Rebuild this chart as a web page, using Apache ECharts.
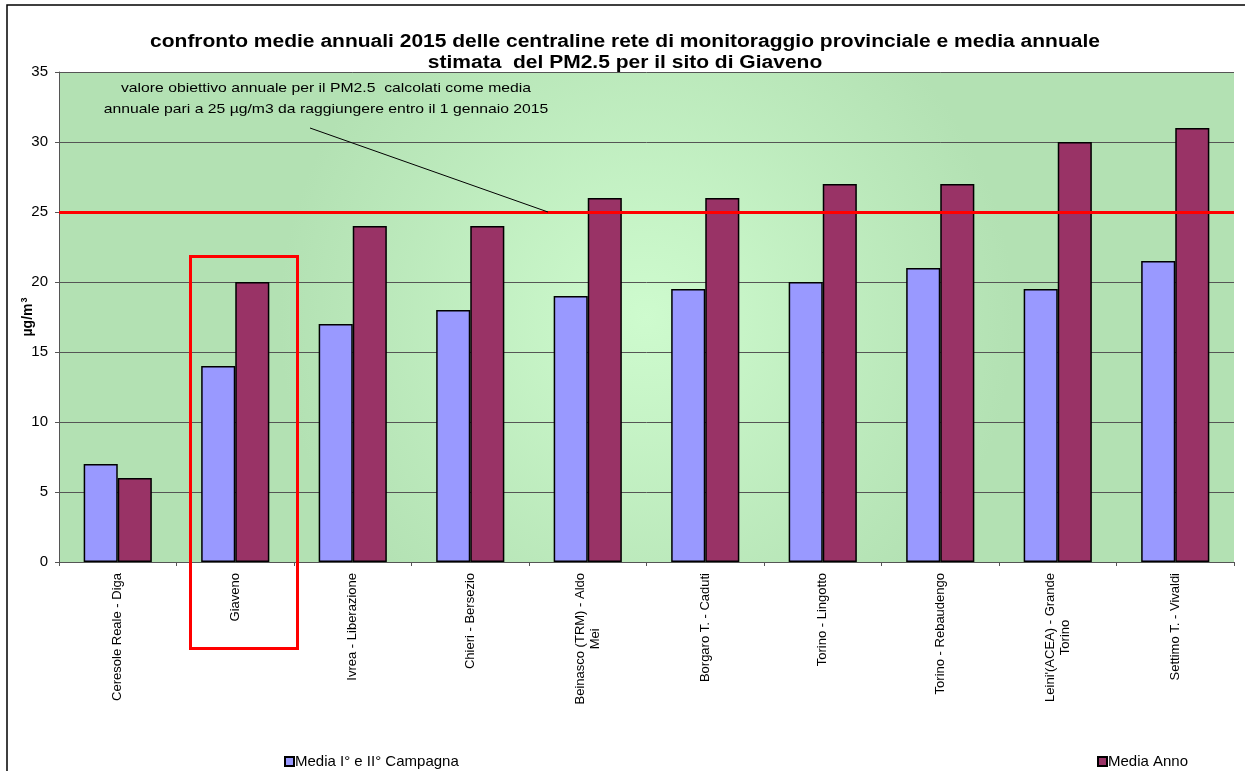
<!DOCTYPE html>
<html>
<head>
<meta charset="utf-8">
<script src="https://cdn.jsdelivr.net/npm/echarts@6/dist/echarts.min.js"></script>
<style>
html,body{margin:0;padding:0;background:#fff;}
#chart{width:1245px;height:771px;}
</style>
</head>
<body>
<div id="chart"></div>
<script>
const categories = [
  'Ceresole Reale - Diga',
  'Giaveno',
  'Ivrea - Liberazione',
  'Chieri - Bersezio',
  'Beinasco (TRM) - Aldo\nMei',
  'Borgaro T. - Caduti',
  'Torino - Lingotto',
  'Torino - Rebaudengo',
  "Leini'(ACEA) - Grande\nTorino",
  'Settimo T. - Vivaldi'
];
const mediaCampagna = [7, 14, 17, 18, 19, 19.5, 20, 21, 19.5, 21.5];
const mediaAnno = [6, 20, 24, 24, 26, 26, 27, 27, 30, 31];
const targetValue = 25;
const yTicks = { min: 0, max: 35, interval: 5 };
const seriesNames = ['Media I° e II° Campagna', 'Media Anno'];
const titleText = 'confronto medie annuali 2015 delle centraline rete di monitoraggio provinciale e media annuale\nstimata  del PM2.5 per il sito di Giaveno';
const noteText = 'valore obiettivo annuale per il PM2.5  calcolati come media\nannuale pari a 25 µg/m3 da raggiungere entro il 1 gennaio 2015';

const FONT = 'Arial, "Liberation Sans", sans-serif';
const chart = echarts.init(document.getElementById('chart'), null, {renderer: 'canvas'});

const option = {
  backgroundColor: '#ffffff',
  animation: false,
  legend: [
    {data: [seriesNames[0]], left: 279, top: 749, itemWidth: 9, itemHeight: 9, icon: 'rect',
     textStyle: {fontFamily: FONT, fontSize: 15, color: '#000', padding: [0,0,0,-4]}},
    {data: [seriesNames[1]], left: 1092, top: 749, itemWidth: 9, itemHeight: 9, icon: 'rect',
     textStyle: {fontFamily: FONT, fontSize: 15, color: '#000', padding: [0,0,0,-4]}}
  ],
  grid: {
    left: 59, right: 11, top: 72, bottom: 209, show: true, borderWidth: 0,
    backgroundColor: new echarts.graphic.RadialGradient(0.5, 0.5, 0.75, [
      {offset: 0, color: '#cefbce'},
      {offset: 1, color: '#b3e1b3'}
    ])
  },
  xAxis: {
    type: 'category', data: categories, boundaryGap: true,
    axisLine: {show: true, lineStyle: {color: '#555', width: 1}},
    axisTick: {show: true, length: 4, lineStyle: {color: '#555'}},
    axisLabel: {
      rotate: 90, interval: 0, margin: 11, color: '#000', fontFamily: FONT, fontSize: 13,
      formatter: function (v) {
        return v.split('\n').map(s => '{m|' + s + '}').join('\n');
      },
      rich: {m: {align: 'center', fontFamily: FONT, fontSize: 13, color: '#000', lineHeight: 15}}
    }
  },
  yAxis: {
    type: 'value', min: yTicks.min, max: yTicks.max, interval: yTicks.interval,
    name: 'µg/m{s|3}', nameLocation: 'middle', nameGap: 23, nameRotate: 90, nameMoveOverlap: false,
    nameTextStyle: {fontFamily: FONT, fontSize: 14, fontWeight: 'bold', color: '#000',
      rich: {s: {fontFamily: FONT, fontSize: 9, fontWeight: 'bold', color: '#000', padding: [0,0,7,1]}}},
    axisLine: {show: true, lineStyle: {color: '#555', width: 1}},
    axisTick: {show: true, length: 4, lineStyle: {color: '#555'}},
    axisLabel: {color: '#000', fontFamily: FONT, fontSize: 15, margin: 11},
    splitLine: {show: true, lineStyle: {color: '#555', width: 1}}
  },
  series: [
    {
      name: seriesNames[0], type: 'bar', data: mediaCampagna,
      barGap: '0%', barCategoryGap: '42%',
      itemStyle: {color: '#9999ff', borderColor: '#000', borderWidth: 1.5},
      markLine: {
        silent: true, symbol: 'none', label: {show: false},
        lineStyle: {color: '#ff0000', width: 3, type: 'solid'},
        data: [{yAxis: targetValue}]
      },
      z: 2
    },
    {
      name: seriesNames[1], type: 'bar', data: mediaAnno,
      itemStyle: {color: '#993366', borderColor: '#000', borderWidth: 1.5},
      z: 2
    }
  ],
  graphic: [
    {type: 'rect', shape: {x: 7, y: 5, width: 1260, height: 800}, z: -1,
     style: {fill: 'none', stroke: '#000', lineWidth: 1.5}},
    {type: 'text', x: 625, y: 32, scaleX: 1.2, z: 10,
     style: {text: titleText, fontFamily: FONT, fontSize: 17.5, fontWeight: 'bold', fill: '#000',
             align: 'center', verticalAlign: 'top', lineHeight: 21}},
    {type: 'text', x: 326, y: 78, scaleX: 1.21, z: 10,
     style: {text: noteText, fontFamily: FONT, fontSize: 13, fill: '#000', align: 'center',
             verticalAlign: 'top', lineHeight: 21}},
    {type: 'line', shape: {x1: 310, y1: 128, x2: 548, y2: 212}, z: 10,
     style: {stroke: '#000', lineWidth: 1}},
    {type: 'rect', shape: {x: 190.5, y: 256.5, width: 107, height: 392}, z: 10,
     style: {fill: 'none', stroke: '#ff0000', lineWidth: 3}}
  ]
};
chart.setOption(option);
</script>
</body>
</html>
